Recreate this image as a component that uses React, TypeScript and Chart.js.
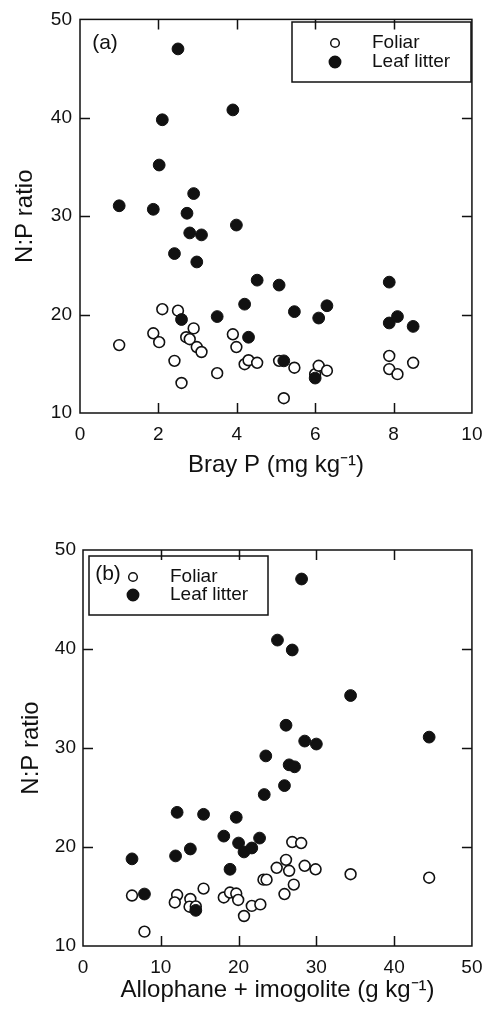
import React, { useEffect, useRef } from "react";
import { Chart, registerables } from "chart.js";

Chart.register(...registerables);

// ---------- DATA ----------
const seriesLabels = ["Foliar", "Leaf litter"];

// Panel (a): Bray P (mg kg-1)
const brayFoliarX = [1.0, 2.1, 2.5, 1.87, 2.02, 2.41, 2.59, 2.71, 2.8, 2.9, 2.98, 3.1, 3.5, 3.9, 3.99, 4.2, 4.3, 4.52, 5.08, 5.2, 5.47, 6.0, 6.09, 6.3, 7.89, 7.89, 8.1, 8.5];
const brayFoliarY = [16.9, 20.55, 20.4, 18.1, 17.2, 15.3, 13.05, 17.7, 17.5, 18.6, 16.7, 16.2, 14.05, 18.0, 16.7, 14.96, 15.36, 15.1, 15.3, 11.5, 14.6, 13.95, 14.8, 14.3, 15.8, 14.46, 13.95, 15.1];
const brayLitterX = [2.5, 2.1, 3.9, 2.02, 1.0, 1.87, 2.9, 2.73, 2.8, 3.1, 3.99, 2.41, 2.98, 4.52, 5.08, 7.89, 4.2, 3.5, 2.59, 5.47, 6.3, 6.09, 7.89, 8.1, 8.5, 4.3, 5.2, 6.0];
const brayLitterY = [47.0, 39.8, 40.8, 35.2, 31.06, 30.7, 32.3, 30.3, 28.3, 28.1, 29.1, 26.2, 25.35, 23.5, 23.0, 23.3, 21.06, 19.8, 19.5, 20.3, 20.9, 19.65, 19.15, 19.8, 18.8, 17.7, 15.3, 13.55];

// Panel (b): Allophane + imogolite (g kg-1)
const alloFoliarX = [6.3, 7.9, 12.1, 11.8, 13.8, 13.7, 14.5, 15.5, 18.1, 18.9, 19.7, 19.95, 20.7, 21.7, 22.8, 23.2, 23.6, 24.9, 25.9, 26.1, 26.5, 26.9, 27.1, 28.05, 28.5, 29.9, 34.4, 44.5];
const alloFoliarY = [15.1, 11.45, 15.15, 14.4, 14.75, 13.97, 14.0, 15.8, 14.9, 15.4, 15.3, 14.65, 13.03, 14.05, 14.2, 16.7, 16.7, 17.9, 15.25, 18.7, 17.6, 20.5, 16.2, 20.4, 18.1, 17.75, 17.25, 16.9];
const alloLitterX = [28.1, 25.0, 26.9, 34.4, 26.1, 28.5, 30.0, 44.5, 23.5, 26.5, 27.2, 25.9, 23.3, 12.1, 15.5, 19.7, 18.1, 22.7, 20.0, 20.7, 21.7, 13.8, 11.9, 6.3, 18.9, 7.9, 14.5];
const alloLitterY = [47.07, 40.9, 39.9, 35.3, 32.3, 30.7, 30.4, 31.1, 29.2, 28.3, 28.1, 26.2, 25.3, 23.5, 23.3, 23.0, 21.1, 20.9, 20.4, 19.5, 19.9, 19.8, 19.1, 18.8, 17.75, 15.25, 13.6];

// Tick values
const yTickValues = [10, 20, 30, 40, 50];
const xTickValuesA = [0, 2, 4, 6, 8, 10];
const xTickValuesB = [0, 10, 20, 30, 40, 50];

// Axis titles
const yTitle = "N:P ratio";
const xTitleA = "Bray P (mg kg\u207B\u00B9)";
const xTitleB = "Allophane + imogolite (g kg\u207B\u00B9)";

const FONT = "'Liberation Sans', Arial, Helvetica, sans-serif";
const INK = "#111";
const TICK_SIZE = 19;
const TITLE_SIZE = 24;
const LEGEND_SIZE = 19;

const zip = (xs: number[], ys: number[]) => xs.map((x, i) => ({ x, y: ys[i] }));

const framePlugin = {
  id: "frame",
  beforeDatasetsDraw(chart: any) {
    const { ctx, chartArea: a, scales } = chart;
    ctx.save();
    ctx.strokeStyle = INK;
    ctx.lineWidth = 1.5;
    ctx.strokeRect(a.left, a.top, a.right - a.left, a.bottom - a.top);
    const T = 10;
    ctx.beginPath();
    const xt = scales.x.ticks;
    xt.forEach((t: any, i: number) => {
      if (i === 0 || i === xt.length - 1) return;
      const px = Math.round(scales.x.getPixelForValue(t.value)) + 0.5;
      ctx.moveTo(px, a.bottom);
      ctx.lineTo(px, a.bottom - T);
      ctx.moveTo(px, a.top);
      ctx.lineTo(px, a.top + T);
    });
    const yt = scales.y.ticks;
    yt.forEach((t: any, i: number) => {
      if (i === 0 || i === yt.length - 1) return;
      const py = Math.round(scales.y.getPixelForValue(t.value)) + 0.5;
      ctx.moveTo(a.left, py);
      ctx.lineTo(a.left + T, py);
      ctx.moveTo(a.right, py);
      ctx.lineTo(a.right - T, py);
    });
    ctx.stroke();
    ctx.restore();
  },
  afterDraw(chart: any, _args: any, opts: any) {
    const { ctx } = chart;
    ctx.save();
    const [x1, y1, x2, y2] = opts.box;
    ctx.strokeStyle = INK;
    ctx.lineWidth = 1.5;
    ctx.strokeRect(x1, y1, x2 - x1, y2 - y1);
    chart.data.datasets.forEach((ds: any, i: number) => {
      const y = opts.rowsY[i];
      ctx.beginPath();
      ctx.arc(opts.markerX, y, opts.markerR[i], 0, Math.PI * 2);
      ctx.fillStyle = ds.backgroundColor;
      ctx.fill();
      ctx.lineWidth = 1.5;
      ctx.strokeStyle = ds.borderColor;
      ctx.stroke();
      ctx.fillStyle = INK;
      ctx.font = `${LEGEND_SIZE}px ${FONT}`;
      ctx.textAlign = "left";
      ctx.textBaseline = "middle";
      ctx.fillText(ds.label, opts.textX, y);
    });
    ctx.fillStyle = INK;
    ctx.font = `21px ${FONT}`;
    ctx.textAlign = "center";
    ctx.textBaseline = "middle";
    ctx.fillText(opts.tag, opts.tagX, opts.tagY);
    ctx.restore();
  },
};

function makeConfig(p: any) {
  return {
    type: "scatter",
    data: {
      datasets: [
        {
          label: seriesLabels[0],
          data: p.foliar,
          backgroundColor: "#ffffff",
          borderColor: INK,
          borderWidth: 1.6,
          pointRadius: 5.4,
          pointHoverRadius: 5.4,
          order: 2,
        },
        {
          label: seriesLabels[1],
          data: p.litter,
          backgroundColor: INK,
          borderColor: INK,
          borderWidth: 1,
          pointRadius: 5.9,
          pointHoverRadius: 5.9,
          order: 1,
        },
      ],
    },
    options: {
      responsive: false,
      animation: false,
      events: [],
      layout: { padding: p.padding },
      plugins: {
        legend: { display: false },
        tooltip: { enabled: false },
        frame: p.frame,
      },
      scales: {
        x: {
          type: "linear",
          min: p.xTicks[0],
          max: p.xTicks[p.xTicks.length - 1],
          afterBuildTicks: (s: any) => {
            s.ticks = p.xTicks.map((v: number) => ({ value: v }));
          },
          afterFit: (s: any) => {
            s.height = p.xHeight;
          },
          grid: { display: false, drawTicks: false },
          border: { display: false },
          ticks: { color: INK, font: { size: TICK_SIZE, family: FONT }, padding: p.xTickPad, maxRotation: 0, autoSkip: false },
          title: { display: true, text: p.xTitle, color: INK, font: { size: TITLE_SIZE, family: FONT }, padding: { top: 0, bottom: p.xTitlePad } },
        },
        y: {
          type: "linear",
          min: yTickValues[0],
          max: yTickValues[yTickValues.length - 1],
          afterBuildTicks: (s: any) => {
            s.ticks = yTickValues.map((v: number) => ({ value: v }));
          },
          afterFit: (s: any) => {
            s.width = p.yWidth;
          },
          grid: { display: false, drawTicks: false },
          border: { display: false },
          ticks: { color: INK, font: { size: TICK_SIZE, family: FONT }, padding: p.yTickPad, autoSkip: false },
          title: { display: true, text: yTitle, color: INK, font: { size: TITLE_SIZE, family: FONT }, padding: { top: p.yTitlePad, bottom: 0 } },
        },
      },
    },
    plugins: [framePlugin],
  };
}

function Panel(props: { width: number; height: number; top: number; params: any }) {
  const ref = useRef<HTMLCanvasElement | null>(null);
  useEffect(() => {
    if (!ref.current) return;
    const chart = new Chart(ref.current, makeConfig(props.params) as any);
    return () => chart.destroy();
  }, []);
  return (
    <canvas
      ref={ref}
      width={props.width}
      height={props.height}
      style={{ position: "absolute", left: 0, top: props.top, width: props.width, height: props.height, display: "block" }}
    />
  );
}

const paramsA = {
  foliar: zip(brayFoliarX, brayFoliarY),
  litter: zip(brayLitterX, brayLitterY),
  xTicks: xTickValuesA,
  xTitle: xTitleA,
  padding: { left: 0, right: 16, top: 15, bottom: 0 },
  yWidth: 80,
  xHeight: 87,
  xTickPad: 10.5,
  yTickPad: 8,
  xTitlePad: 20,
  yTitlePad: 10.5,
  frame: {
    box: [292, 22, 471, 82],
    markerX: 335,
    rowsY: [43, 62],
    markerR: [4.3, 5.7],
    textX: 372,
    tag: "(a)",
    tagX: 105,
    tagY: 43,
  },
};

const paramsB = {
  foliar: zip(alloFoliarX, alloFoliarY),
  litter: zip(alloLitterX, alloLitterY),
  xTicks: xTickValuesB,
  xTitle: xTitleB,
  padding: { left: 0, right: 13, top: 50, bottom: 0 },
  yWidth: 83,
  xHeight: 68,
  xTickPad: 10.5,
  yTickPad: 7,
  xTitlePad: 9.5,
  yTitlePad: 16.5,
  frame: {
    box: [89, 56, 268, 115],
    markerX: 133,
    rowsY: [77, 95],
    markerR: [4.3, 5.7],
    textX: 170,
    tag: "(b)",
    tagX: 108,
    tagY: 74,
  },
};

export default function App() {
  return (
    <div style={{ position: "absolute", left: 0, top: 0, width: 493, height: 1014, background: "#fff" }}>
      <Panel width={493} height={500} top={0} params={paramsA} />
      <Panel width={493} height={514} top={500} params={paramsB} />
    </div>
  );
}
